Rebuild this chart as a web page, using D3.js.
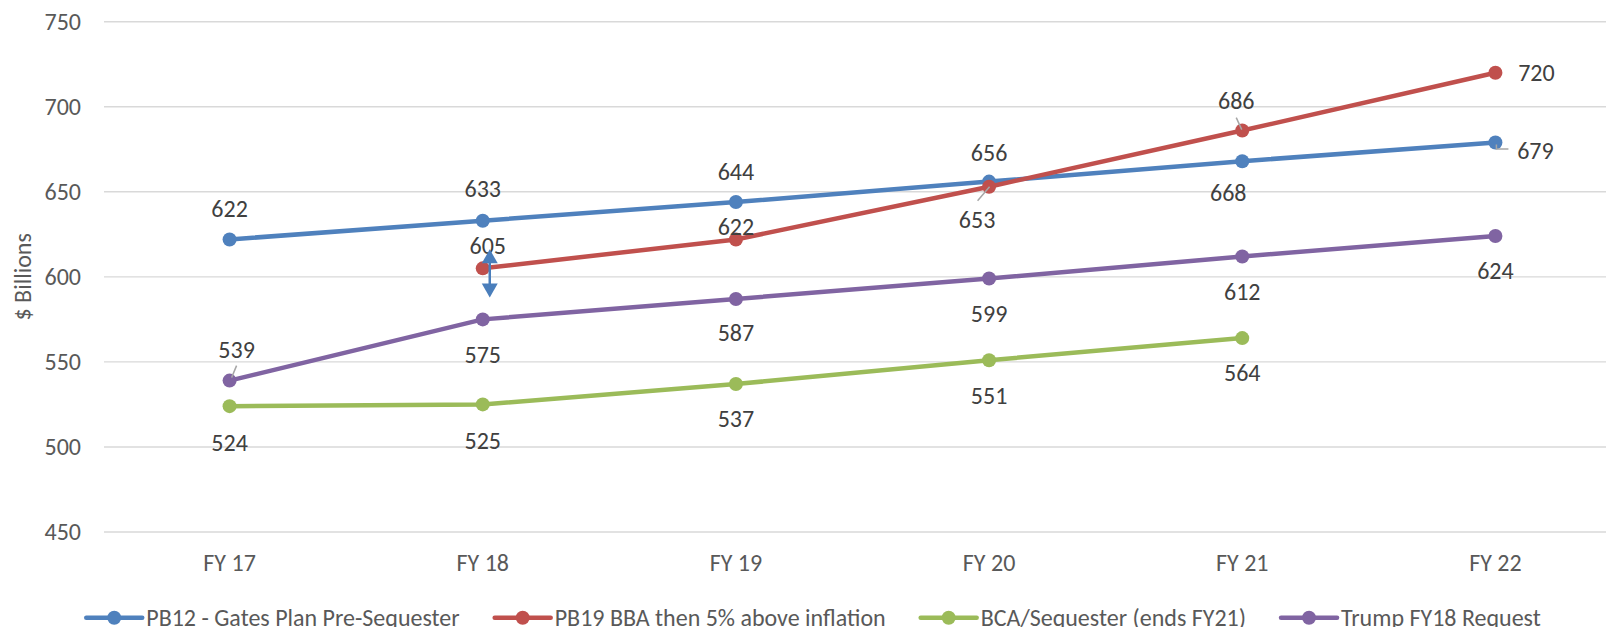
<!DOCTYPE html>
<html lang="en">
<head>
  <meta charset="UTF-8">
  <title>Defense budget paths</title>
  <script src="https://d3js.org/d3.v7.min.js"></script>
  <style>
    body { margin: 0; background: #fff; }
    svg { display: block; font-family: Carlito, "Open Sans", sans-serif; }
  </style>
</head>
<body>
<svg id="chart" width="1606" height="627"></svg>
<script>
// data
const years = ["FY 17", "FY 18", "FY 19", "FY 20", "FY 21", "FY 22"];
const yTicks = [450, 500, 550, 600, 650, 700, 750];
const seriesNames = [
  "PB12 - Gates Plan Pre-Sequester",
  "PB19 BBA then 5% above inflation",
  "BCA/Sequester (ends FY21)",
  "Trump FY18 Request"
];
const gatesPlan = [622, 633, 644, 656, 668, 679];
const pb19 = [null, 605, 622, 653, 686, 720];
const bcaSequester = [524, 525, 537, 551, 564, null];
const trumpRequest = [539, 575, 587, 599, 612, 624];
const colors = ["#4F81BD", "#C0504D", "#9BBB59", "#8064A2"];

// label placement relative to marker (dx, dy) - like excel's manual label drags
const labelOffsets = [
  [[0, -31], [0, -32], [0, -30], [0, -29], [-14, 31], [40, 8]],
  [null, [5, -23], [0, -13], [-12, 33], [-6, -30], [41, 0]],
  [[0, 36], [0, 36], [0, 35], [0, 35], [0, 35], null],
  [[7, -31], [0, 35], [0, 34], [0, 35], [0, 35], [0, 35]]
];
const fontSize = "24px";

const svg = d3.select("#chart");
const x = d3.scaleBand().domain(years).range([103, 1622]);
const y = d3.scaleLinear().domain([450, 750]).range([532, 21.7]);
const cx = d => x(d) + x.bandwidth() / 2;

// gridlines
svg.append("g").selectAll("line").data(yTicks).join("line")
  .attr("x1", 104).attr("x2", 1622)
  .attr("y1", d => y(d)).attr("y2", d => y(d))
  .attr("stroke", "#D9D9D9").attr("stroke-width", 1.4);

// y tick labels
svg.append("g").selectAll("text").data(yTicks).join("text")
  .attr("x", 81).attr("y", d => y(d)).attr("dy", "0.35em")
  .attr("text-anchor", "end").attr("font-size", fontSize).attr("fill", "#595959")
  .text(d => d);

// x tick labels
svg.append("g").selectAll("text").data(years).join("text")
  .attr("x", d => cx(d)).attr("y", 563).attr("dy", "0.35em")
  .attr("text-anchor", "middle").attr("font-size", fontSize).attr("fill", "#595959")
  .text(d => d);

// y axis title
svg.append("text")
  .attr("transform", `translate(23,${(y(450) + y(750)) / 2}) rotate(-90)`)
  .attr("dy", "0.35em").attr("text-anchor", "middle")
  .attr("font-size", fontSize).attr("fill", "#595959")
  .text("$ Billions");

const allSeries = [gatesPlan, pb19, bcaSequester, trumpRequest];
const line = d3.line()
  .defined(d => d.v != null)
  .x(d => cx(d.year)).y(d => y(d.v));

allSeries.forEach((vals, i) => {
  const pts = vals.map((v, j) => ({ year: years[j], v }));
  svg.append("path")
    .datum(pts)
    .attr("d", line)
    .attr("fill", "none")
    .attr("stroke", colors[i])
    .attr("stroke-width", 4.5)
    .attr("stroke-linejoin", "round")
    .attr("stroke-linecap", "round");
  svg.append("g").selectAll("circle").data(pts.filter(d => d.v != null)).join("circle")
    .attr("cx", d => cx(d.year)).attr("cy", d => y(d.v))
    .attr("r", 7).attr("fill", colors[i]);
});

// leader lines for the dragged labels
const leaders = [
  [[cx("FY 17") + 2, y(539) - 3], [cx("FY 17") + 7, y(539) - 15]],
  [[cx("FY 22") + 1, y(679) + 2], [cx("FY 22") + 1, y(679) + 6.5], [cx("FY 22") + 13, y(679) + 6.5]],
  [[cx("FY 21") - 6, y(686) - 13], [cx("FY 21") - 0.5, y(686) - 1]],
  [[cx("FY 20") - 11.5, y(653) + 14], [cx("FY 20") + 0.5, y(653)]]
];
svg.append("g").selectAll("path").data(leaders).join("path")
  .attr("d", d => d3.line()(d))
  .attr("fill", "none").attr("stroke", "#A6A6A6").attr("stroke-width", 1.5);

// data labels
allSeries.forEach((vals, i) => {
  vals.forEach((v, j) => {
    if (v == null) return;
    const [dx, dy] = labelOffsets[i][j];
    svg.append("text")
      .attr("x", cx(years[j]) + dx).attr("y", y(v) + dy).attr("dy", "0.35em")
      .attr("text-anchor", "middle").attr("font-size", fontSize).attr("fill", "#404040")
      .text(v);
  });
});

// blue double-headed arrow between PB19 and Trump at FY 18
const ax = cx("FY 18") + 7;
const aTop = y(605) - 19, aBot = y(575) - 22;
const arrowColor = "#4A7EBB";
svg.append("line")
  .attr("x1", ax).attr("x2", ax).attr("y1", aTop + 10).attr("y2", aBot - 10)
  .attr("stroke", arrowColor).attr("stroke-width", 2.5);
svg.append("path")
  .attr("d", `M${ax},${aTop} L${ax - 8},${aTop + 14} L${ax + 8},${aTop + 14} Z`)
  .attr("fill", arrowColor);
svg.append("path")
  .attr("d", `M${ax},${aBot} L${ax - 8},${aBot - 14} L${ax + 8},${aBot - 14} Z`)
  .attr("fill", arrowColor);

// legend
const legend = svg.append("g");
const legendY = 617.7;
const items = seriesNames.map((name, i) => {
  const g = legend.append("g");
  g.append("line").attr("x1", 0).attr("x2", 56).attr("y1", legendY).attr("y2", legendY)
    .attr("stroke", colors[i]).attr("stroke-width", 4.5).attr("stroke-linecap", "round");
  g.append("circle").attr("cx", 28).attr("cy", legendY).attr("r", 7).attr("fill", colors[i]);
  const t = g.append("text").attr("x", 60).attr("y", legendY).attr("dy", "0.35em")
    .attr("font-size", fontSize).attr("fill", "#595959").text(name);
  return { g, w: 60 + t.node().getComputedTextLength() };
});
const gap = 35;
const totalW = d3.sum(items, d => d.w) + gap * (items.length - 1);
let lx = 813.5 - totalW / 2;
items.forEach(it => {
  it.g.attr("transform", `translate(${lx},0)`);
  lx += it.w + gap;
});
</script>
</body>
</html>
